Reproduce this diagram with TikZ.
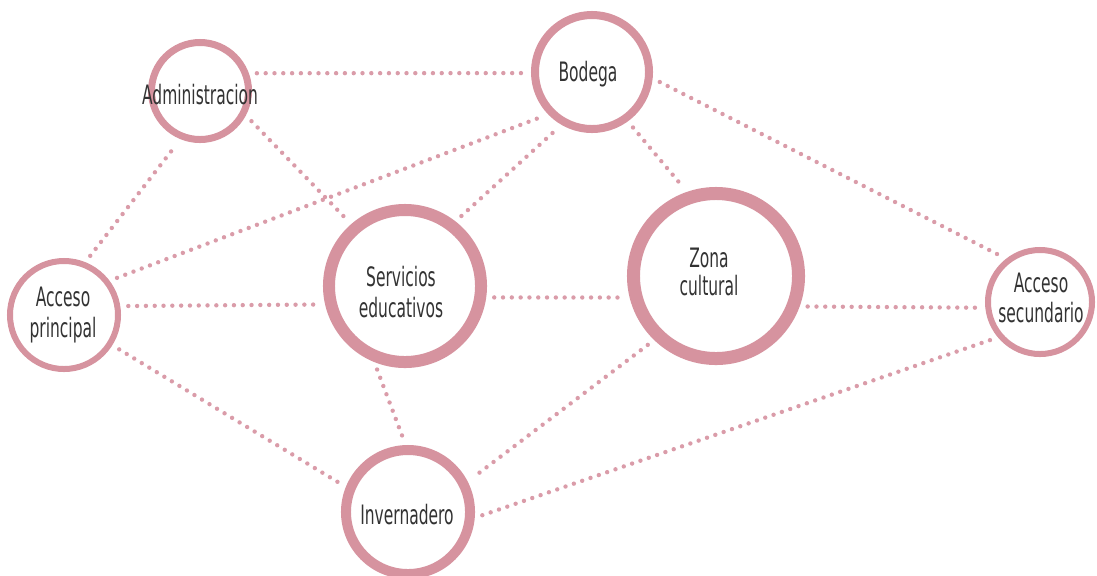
\documentclass[tikz,border=0pt]{standalone}
\usepackage{fontspec}
\newfontfamily\agency[FakeStretch=0.58]{DejaVu Sans}
\definecolor{ring}{HTML}{D6939F}
\definecolor{dotc}{HTML}{DA9CA9}
\definecolor{txt}{HTML}{333333}
\begin{document}
\begin{tikzpicture}[x=0.025cm,y=-0.025cm,
  place/.style={circle,draw=ring,inner sep=0pt,fill=white,text=txt,align=center},
  link/.style={draw=dotc,line width=0.11cm,line cap=round,dash pattern=on 0pt off 0.22cm,
     shorten <=0.2cm,shorten >=0.2cm},
  label text/.style={text=txt,align=center,inner sep=0pt,
     font=\agency\fontsize{19}{21.5}\selectfont}]
\useasboundingbox (0,0) rectangle (1097,575);
% circles: minimum size = 2*(outer r - lw/2) px
\node[place,line width=0.175cm,minimum size=2.425cm] (adm) at (200,91) {};
\node[place,line width=0.2cm,minimum size=2.85cm] (bod) at (592,72) {};
\node[place,line width=0.15cm,minimum size=2.7cm] (ap) at (64,315) {};
\node[place,line width=0.3cm,minimum size=3.8cm] (ser) at (405,286) {};
\node[place,line width=0.325cm,minimum size=4.125cm] (zon) at (716,276) {};
\node[place,line width=0.15cm,minimum size=2.6cm] (as) at (1040,302) {};
\node[place,line width=0.25cm,minimum size=3.1cm] (inv) at (408,512) {};
% links
\draw[link] (adm.20) -- (bod.181);
\draw[link] (ap.68) -- (adm.248);
\draw[link] (adm.332) -- (ser.131);
\draw[link] (ap.37) -- (bod.224);
\draw[link] (ser.52) -- (bod.240);
\draw[link] (bod.306) -- (zon.109);
\draw[link] (bod.354) -- (as.128);
\draw[link] (ap.9) -- (ser.193);
\draw[link] (ser.352) -- (zon.194);
\draw[link] (zon.340) -- (as.186);
\draw[link] (ap.328) -- (inv.158);
\draw[link] (ser.248) -- (inv.92);
\draw[link] (zon.226) -- (inv.27);
\draw[link] (inv.355) -- (as.220);
% texts
\node[label text] (admT) at (200,95) {Administracion};
\node[label text] (bodT) at (588,74) {Bodega};
\node[label text] (apT) at (63,315) {Acceso\\principal};
\node[label text] (serT) at (401,292) {Servicios\\educativos};
\node[label text,font=\agency\fontsize{19}{19.5}\selectfont] (zonT) at (709,272) {Zona\\cultural};
\node[label text] (asT) at (1041,298) {Acceso\\secundario};
\node[label text] (invT) at (407,515) {Invernadero};
\end{tikzpicture}
\end{document}
